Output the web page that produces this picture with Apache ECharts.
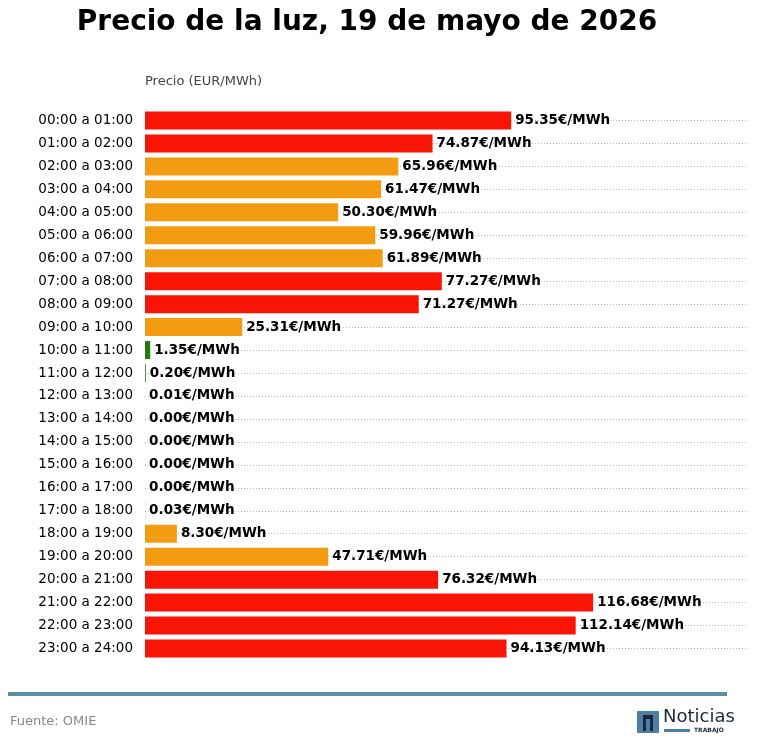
<!DOCTYPE html>
<html>
<head>
<meta charset="utf-8">
<script src="https://cdn.jsdelivr.net/npm/echarts@6/dist/echarts.min.js"></script>
<style>html,body{margin:0;padding:0;background:#fff}#chart{width:758px;height:755px}</style>
</head>
<body>
<div id="chart"></div>
<script>
var hours = ['00:00 a 01:00','01:00 a 02:00','02:00 a 03:00','03:00 a 04:00','04:00 a 05:00','05:00 a 06:00',
  '06:00 a 07:00','07:00 a 08:00','08:00 a 09:00','09:00 a 10:00','10:00 a 11:00','11:00 a 12:00',
  '12:00 a 13:00','13:00 a 14:00','14:00 a 15:00','15:00 a 16:00','16:00 a 17:00','17:00 a 18:00',
  '18:00 a 19:00','19:00 a 20:00','20:00 a 21:00','21:00 a 22:00','22:00 a 23:00','23:00 a 24:00'];
var prices = [95.35, 74.87, 65.96, 61.47, 50.30, 59.96, 61.89, 77.27, 71.27, 25.31, 1.35, 0.20,
  0.01, 0.00, 0.00, 0.00, 0.00, 0.03, 8.30, 47.71, 76.32, 116.68, 112.14, 94.13];

function colorFor(v) {
  if (v >= 70) return '#f91505';
  if (v >= 5) return '#f39c12';
  return '#1e7b0c';
}

var font = 'DejaVu Sans';
var chart = echarts.init(document.getElementById('chart'));
chart.setOption({
  animation: false,
  textStyle: { fontFamily: font },
  grid: { left: 145, right: 10, top: 109, bottom: 95, containLabel: false },
  xAxis: { type: 'value', min: 0, max: 157, show: false },
  yAxis: {
    type: 'category', data: hours, inverse: true,
    axisLine: { show: false }, axisTick: { show: false }, splitLine: { show: false },
    axisLabel: { color: '#000', fontSize: 13.5, margin: 12, fontFamily: font }
  },
  series: [{
    type: 'bar', barWidth: 18, z: 2,
    data: prices.map(function (v) { return { value: v, itemStyle: { color: colorFor(v) } }; }),
    label: {
      show: true, position: 'right', distance: 4, color: '#000', fontWeight: 'bold', fontSize: 13.5,
      fontFamily: font,
      formatter: function (p) { return p.value.toFixed(2) + '€/MWh'; }
    },
    markLine: {
      silent: true, symbol: 'none', z: 1, label: { show: false },
      lineStyle: { color: '#bbb', type: [1, 2], width: 1 },
      data: hours.map(function (h) { return { yAxis: h }; })
    }
  }],
  graphic: [
    { type: 'text', x: 367, y: 9, style: { text: 'Precio de la luz, 19 de mayo de 2026', font: 'bold 28px "DejaVu Sans"', fill: '#000', textAlign: 'center' } },
    { type: 'text', left: 145, top: 75, style: { text: 'Precio (EUR/MWh)', font: '13px "DejaVu Sans"', fill: '#444' } },
    { type: 'rect', shape: { x: 8, y: 692, width: 719, height: 4 }, style: { fill: '#5b8fa8' } },
    { type: 'text', left: 10, top: 715, style: { text: 'Fuente: OMIE', font: '13px "DejaVu Sans"', fill: '#888' } },
    { type: 'rect', shape: { x: 637, y: 711, width: 22, height: 22 }, style: { fill: '#4d7ea8' } },
    { type: 'rect', shape: { x: 643, y: 715, width: 10, height: 16 }, style: { fill: '#1a2a3a' } },
    { type: 'rect', shape: { x: 646, y: 719, width: 4, height: 12 }, style: { fill: '#4d7ea8' } },
    { type: 'text', x: 663, y: 708, style: { text: 'Noticias', font: '18px "DejaVu Sans"', fill: '#1a2a3a' } },
    { type: 'rect', shape: { x: 664, y: 729, width: 26, height: 3 }, style: { fill: '#4d7ea8' } },
    { type: 'text', x: 694, y: 727, style: { text: 'TRABAJO', font: 'bold 6px "DejaVu Sans"', fill: '#1a2a3a' } }
  ]
});
window.addEventListener('resize', function () { chart.resize(); });
</script>
</body>
</html>
